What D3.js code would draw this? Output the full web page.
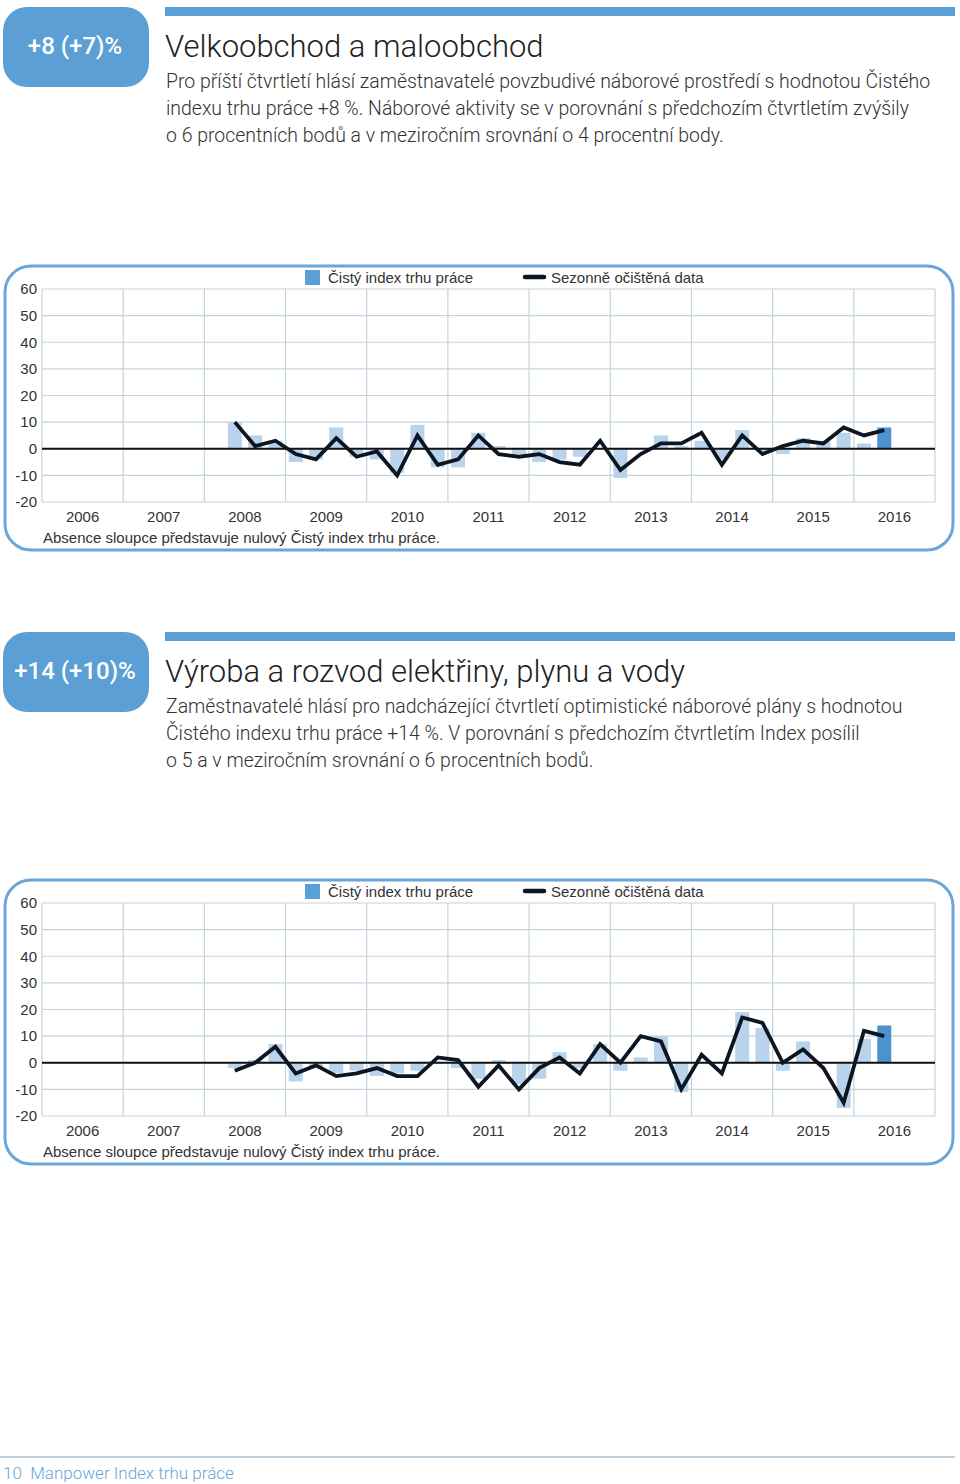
<!DOCTYPE html>
<html><head><meta charset="utf-8">
<script src="https://cdn.jsdelivr.net/npm/d3@7/dist/d3.min.js"></script>
<style>body{margin:0;background:#fff}svg{display:block}</style>
</head><body>
<script>
const years = ["2006","2007","2008","2009","2010","2011","2012","2013","2014","2015","2016"];
const quarters = ["2008Q2","2008Q3","2008Q4",
 "2009Q1","2009Q2","2009Q3","2009Q4","2010Q1","2010Q2","2010Q3","2010Q4",
 "2011Q1","2011Q2","2011Q3","2011Q4","2012Q1","2012Q2","2012Q3","2012Q4",
 "2013Q1","2013Q2","2013Q3","2013Q4","2014Q1","2014Q2","2014Q3","2014Q4",
 "2015Q1","2015Q2","2015Q3","2015Q4","2016Q1","2016Q2"];
const yTicks = [60,50,40,30,20,10,0,-10,-20];

const retailNet = [10,5,3, -5,-4,8,-3, -4,-9,9,-7, -7,6,1,-2, -5,-4,-3,0, -11,0,5,1, 3,-4,7,-1, -2,4,3,6, 2,8];
const retailAdj = [10,1,3, -2,-4,4,-3, -1,-10,5,-6, -4,5,-2,-3, -2,-5,-6,3, -8,-2,2,2, 6,-6,5,-2, 1,3,2,8, 5,7];
const utilNet = [-2,1,7, -7,-2,-4,-3, -5,-4,-3,0, -2,-6,1,-8, -6,4,-2,7, -3,2,10,-11, 0,0,19,13, -3,8,0,-17, 9,14];
const utilAdj = [-3,0,6, -4,-1,-5,-4, -2,-5,-5,2, 1,-9,-1,-10, -2,2,-4,7, 0,10,8,-10, 3,-4,17,15, 0,5,-2,-15, 12,10];

const legendLabels = ["Čistý index trhu práce","Sezonně očištěná data"];
const note = "Absence sloupce představuje nulový Čistý index trhu práce.";

const sections = [
 {badge:"+8 (+7)%", title:"Velkoobchod a maloobchod",
  body:["Pro příští čtvrtletí hlásí zaměstnavatelé povzbudivé náborové prostředí s hodnotou Čistého",
        "indexu trhu práce +8 %. Náborové aktivity se v porovnání s předchozím čtvrtletím zvýšily",
        "o 6 procentních bodů a v meziročním srovnání o 4 procentní body."],
  net:retailNet, adj:retailAdj, headTop:7, plotTop:289},
 {badge:"+14 (+10)%", title:"Výroba a rozvod elektřiny, plynu a vody",
  body:["Zaměstnavatelé hlásí pro nadcházející čtvrtletí optimistické náborové plány s hodnotou",
        "Čistého indexu trhu práce +14 %. V porovnání s předchozím čtvrtletím Index posílil",
        "o 5 a v meziročním srovnání o 6 procentních bodů."],
  net:utilNet, adj:utilAdj, headTop:632, plotTop:903}
];

const W=960, H=1484;
const BLUE="#5b9fd4";
const FONT="'Liberation Sans', Arial, sans-serif";
const svg = d3.select("body").append("svg").attr("width",W).attr("height",H)
  .style("font-family",FONT);
svg.append("rect").attr("width",W).attr("height",H).attr("fill","#fff");

const plotL=42, plotR=935, plotH=213;

sections.forEach(s=>{
  const g = svg.append("g");
  const t = s.headTop;
  // header
  g.append("rect").attr("x",3).attr("y",t).attr("width",146).attr("height",80).attr("rx",24).attr("fill",BLUE);
  g.append("text").attr("x",75).attr("y",t+41).attr("text-anchor","middle").attr("fill","#fff")
   .attr("font-size",24).attr("font-weight",500).attr("dominant-baseline","middle").text(s.badge)
   .style("font-family","Roboto, sans-serif");
  g.append("rect").attr("x",165).attr("y",t).attr("width",790).attr("height",9).attr("fill",BLUE);
  g.append("text").attr("x",165).attr("y",t+50).attr("font-size",31).attr("fill","#222")
   .style("font-family","Roboto, sans-serif").attr("font-weight",300).text(s.title);
  s.body.forEach((line,i)=>{
    g.append("text").attr("x",166).attr("y",t+81+i*27).attr("font-size",19.45).attr("fill","#333")
     .style("font-family","Roboto, sans-serif").attr("font-weight",300).text(line);
  });

  // chart box
  const top = s.plotTop;
  g.append("rect").attr("x",5).attr("y",top-23).attr("width",948).attr("height",284)
   .attr("rx",26).attr("fill","none").attr("stroke","#6aa6d9").attr("stroke-width",3);

  const y = d3.scaleLinear().domain([-20,60]).range([top+plotH, top]);
  const xYear = d3.scaleBand().domain(years).range([plotL,plotR]);
  const qIndex = q => (+q.slice(0,4)-2006)*4 + (+q.slice(5)-1);

  // grid
  g.append("g").selectAll("line").data(yTicks).join("line")
   .attr("x1",plotL).attr("x2",plotR).attr("y1",d=>y(d)).attr("y2",d=>y(d))
   .attr("stroke","#c3d4df").attr("stroke-width",1.2);
  g.append("g").selectAll("line").data(years.concat(["end"])).join("line")
   .attr("x1",(d,i)=>plotL+i*xYear.bandwidth()).attr("x2",(d,i)=>plotL+i*xYear.bandwidth())
   .attr("y1",y(60)).attr("y2",y(-20)).attr("stroke","#c3d4df").attr("stroke-width",1.2);

  // bars
  const data = quarters.map((q,i)=>({q, net:s.net[i], adj:s.adj[i], last:i===quarters.length-1}));
  const bw = 14;
  const xq = d3.scalePoint().domain(d3.range(44)).range([plotL+xYear.bandwidth()/8, plotR-xYear.bandwidth()/8]);
  const cxx = d => xq(qIndex(d.q));
  g.append("g").selectAll("rect").data(data.filter(d=>d.net!==0)).join("rect")
   .attr("x",d=>cxx(d)-bw/2).attr("width",bw)
   .attr("y",d=>y(Math.max(0,d.net))).attr("height",d=>Math.abs(y(d.net)-y(0)))
   .attr("fill",d=>d.last?"#4c93cd":"#b8d3eb");

  // zero line
  g.append("line").attr("x1",plotL).attr("x2",plotR).attr("y1",y(0)).attr("y2",y(0))
   .attr("stroke","#111").attr("stroke-width",2);

  // adjusted line
  g.append("path").datum(data).attr("fill","none").attr("stroke","#0d1620").attr("stroke-width",3.8)
   .attr("stroke-linejoin","miter")
   .attr("d", d3.line().x(cxx).y(d=>y(d.adj)));

  // axes
  const ya = g.append("g").attr("transform",`translate(${plotL},0)`)
   .call(d3.axisLeft(y).tickValues(yTicks).tickFormat(d=>String(d)).tickSize(0).tickPadding(5));
  ya.select(".domain").remove();
  ya.selectAll("text").attr("font-size",15).attr("fill","#333").style("font-family",FONT);
  const xa = g.append("g").attr("transform",`translate(0,${y(-20)})`)
   .call(d3.axisBottom(xYear).tickSize(0).tickPadding(9));
  xa.select(".domain").remove();
  xa.selectAll("text").attr("font-size",15).attr("fill","#333").style("font-family",FONT);

  // legend
  g.append("rect").attr("x",305).attr("y",top-19).attr("width",15).attr("height",15).attr("fill","#5a9fd5");
  g.append("text").attr("x",328).attr("y",top-6).attr("font-size",15).attr("fill","#333").text(legendLabels[0]);
  g.append("line").attr("x1",525).attr("x2",544).attr("y1",top-12).attr("y2",top-12)
   .attr("stroke","#0d1620").attr("stroke-width",4.5).attr("stroke-linecap","round");
  g.append("text").attr("x",551).attr("y",top-6).attr("font-size",15).attr("fill","#333").text(legendLabels[1]);

  // note
  g.append("text").attr("x",43).attr("y",top+254).attr("font-size",15).attr("fill","#333").text(note);
});

// footer
svg.append("line").attr("x1",0).attr("x2",955).attr("y1",1457).attr("y2",1457)
  .attr("stroke","#a9c1d1").attr("stroke-width",1.5);
svg.append("text").attr("x",3).attr("y",1479).attr("font-size",17).attr("fill","#6aa6d6")
  .style("font-family","Roboto, sans-serif").attr("font-weight",300).attr("xml:space","preserve")
  .text("10  Manpower Index trhu práce");
</script>
</body></html>
